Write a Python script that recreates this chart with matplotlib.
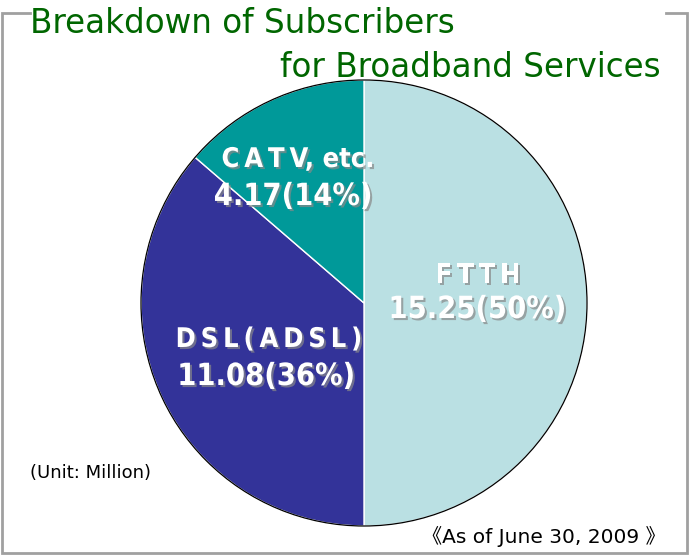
import matplotlib
matplotlib.use("Agg")
import matplotlib.pyplot as plt
import matplotlib.patheffects as pe
from matplotlib.patches import Circle

# Subscriber counts (million) as of June 30, 2009
categories = ["FTTH", "DSL(ADSL)", "CATV, etc."]
display_names = ["F\u2009T\u2009T\u2009H",
                 "D\u2009S\u2009L\u2009(\u2009A\u2009D\u2009S\u2009L\u2009)",
                 "C\u2009A\u2009T\u2009V, etc."]
subscribers = [15.25, 11.08, 4.17]
colors = ["#BAE0E3", "#333399", "#009999"]

W, H = 698, 556
fig = plt.figure(figsize=(W / 100, H / 100), dpi=100)
ax = fig.add_axes([0, 0, 1, 1])

narrow = dict(family="DejaVu Sans", stretch="condensed")

# pie, clockwise from 12 o'clock
cx, cy, r = 364, H - 303, 223
wedges, _ = ax.pie(subscribers, colors=colors, startangle=90, counterclock=False,
                   center=(cx, cy), radius=r, frame=True,
                   wedgeprops=dict(edgecolor="white", linewidth=1.0))
ax.set_xlim(0, W)
ax.set_ylim(0, H)
ax.set_aspect("equal")
ax.axis("off")
ax.add_patch(Circle((cx, cy), r, fill=False, edgecolor="black", linewidth=0.9, zorder=5))

total = sum(subscribers)
shadow = [pe.SimplePatchShadow(offset=(1.5, -1.5), shadow_rgbFace="#888888", alpha=0.7),
          pe.Normal()]
# (name x, name baseline), (value x, value baseline)
label_pos = {
    "FTTH": ((478, H - 283), (477, H - 318)),
    "DSL(ADSL)": ((269, H - 347), (266, H - 385)),
    "CATV, etc.": ((298, H - 167), (293, H - 205)),
}
for cat, name, val in zip(categories, display_names, subscribers):
    (nx, ny), (vx, vy) = label_pos[cat]
    pct = round(val / total * 100)
    ax.text(nx, ny, name, color="white", fontsize=19.5, fontweight="bold",
            ha="center", va="baseline", path_effects=shadow, zorder=6, **narrow)
    ax.text(vx, vy, f"{val:.2f}({pct}%)", color="white", fontsize=22, fontweight="bold",
            ha="center", va="baseline", path_effects=shadow, zorder=6, **narrow)

# title
green = "#006600"
ax.text(30, H - 33, "Breakdown of Subscribers", color=green, fontsize=23.5,
        family="DejaVu Sans", ha="left", va="baseline")
ax.text(661, H - 77, "for Broadband Services", color=green, fontsize=23.5,
        family="DejaVu Sans", ha="right", va="baseline")

# notes
ax.text(30, H - 478, "(Unit: Million)", color="black", fontsize=13,
        family="DejaVu Sans", ha="left", va="baseline")
ax.text(666, H - 543, "《As of June 30, 2009 》", color="black", fontsize=14.5,
        family=["DejaVu Sans", "Noto Sans CJK JP"], ha="right", va="baseline")

# frame around the chart, open at the top behind the title
gray = "#A0A0A0"
ax.plot([30, 1.5, 1.5, 686.5, 686.5, 666],
        [H - 13, H - 13, H - 553, H - 553, H - 13, H - 13],
        color=gray, linewidth=2.0, solid_joinstyle="miter", zorder=1)

fig.savefig("out.png", dpi=100)
